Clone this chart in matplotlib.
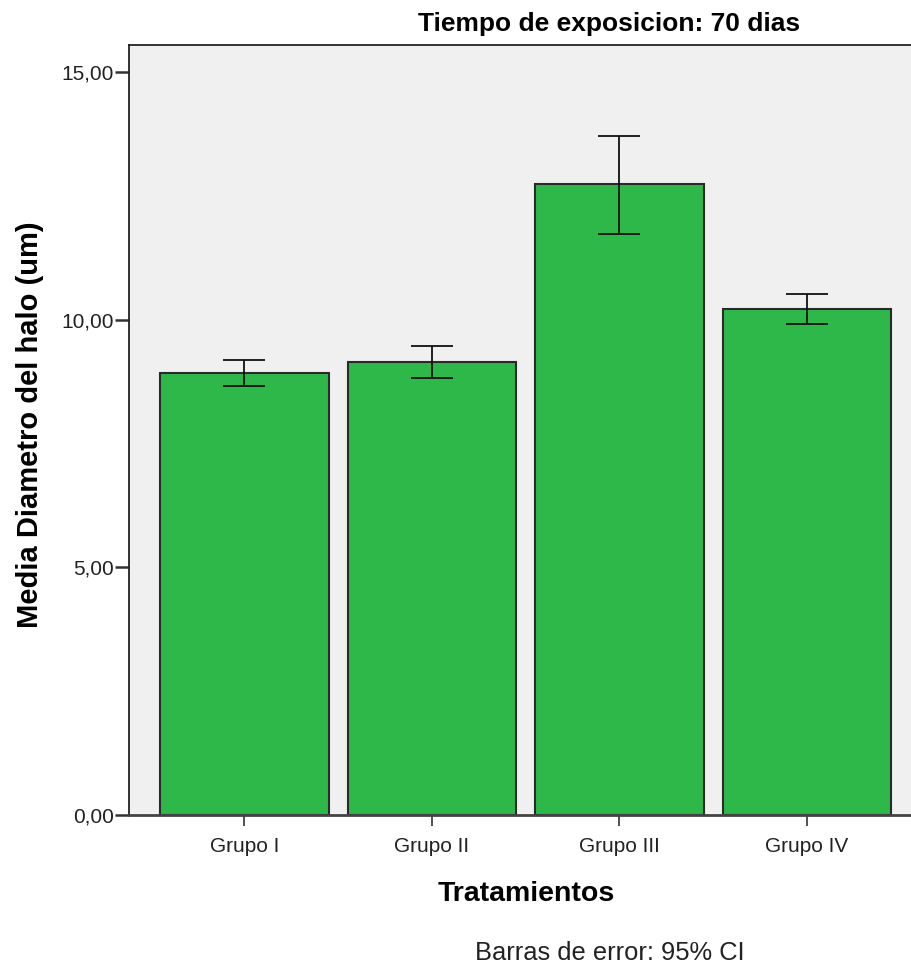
import matplotlib
matplotlib.use("Agg")
import matplotlib.pyplot as plt
from matplotlib import font_manager

categories = ["Grupo I", "Grupo II", "Grupo III", "Grupo IV"]
means = [8.93, 9.14, 12.73, 10.21]
ci_low = [8.65, 8.81, 11.73, 9.91]
ci_high = [9.19, 9.47, 13.70, 10.51]
yticks = [0, 5, 10, 15]
ytick_labels = ["0,00", "5,00", "10,00", "15,00"]

names = {f.name for f in font_manager.fontManager.ttflist}
base = "Liberation Sans" if "Liberation Sans" in names else "DejaVu Sans"
plt.rcParams['font.family'] = [base, "DejaVu Sans"]

W, H = 912, 967
fig = plt.figure(figsize=(W / 100, H / 100), dpi=100)
fig.patch.set_facecolor("white")

left, right, top, bottom = 129, 922.5, 45, 815
ax = fig.add_axes([left / W, 1 - bottom / H, (right - left) / W, (bottom - top) / H])
ax.set_facecolor("#F0F0F0")

x = list(range(len(categories)))
yerr = [[m - l for m, l in zip(means, ci_low)], [h - m for m, h in zip(means, ci_high)]]
ax.bar(x, means, width=0.9, color="#2EB84A", edgecolor="#2a2a2a", linewidth=1.5, zorder=2)
ax.errorbar(x, means, yerr=yerr, fmt="none", ecolor="#111111", elinewidth=1.3,
            capsize=15, capthick=1.3, zorder=3)

ax.set_xlim(-0.616, 3.616)
ax.set_ylim(0, 15.54)
ax.set_yticks(yticks)
ax.set_yticklabels(ytick_labels, fontsize=15, color="#222222")
ax.set_xticks(x)
ax.set_xticklabels(categories, fontsize=15, color="#222222")
ax.tick_params(axis="y", length=10, width=1.8, color="#333333", pad=1)
ax.tick_params(axis="x", length=8, width=1.2, color="#333333", pad=8)

for s in ["top", "left"]:
    ax.spines[s].set_color("#222222")
    ax.spines[s].set_linewidth(1.3)
ax.spines["bottom"].set_color("#444444")
ax.spines["bottom"].set_linewidth(2)
ax.spines["right"].set_visible(False)

fig.text(609.5 / W, 1 - 31 / H, "Tiempo de exposicion: 70 dias", ha="center", va="baseline",
         fontsize=19, fontweight="bold")
fig.text(30.5 / W, 1 - 425 / H, "Media Diametro del halo (um)", ha="center", va="center",
         rotation=90, fontsize=21, fontweight="bold")
fig.text(526 / W, 1 - 901 / H, "Tratamientos", ha="center", va="baseline",
         fontsize=20.5, fontweight="bold")
fig.text(610 / W, 1 - 960 / H, "Barras de error: 95% CI", ha="center", va="baseline",
         fontsize=18.4, color="#222222")

fig.savefig("out.png", dpi=100)
